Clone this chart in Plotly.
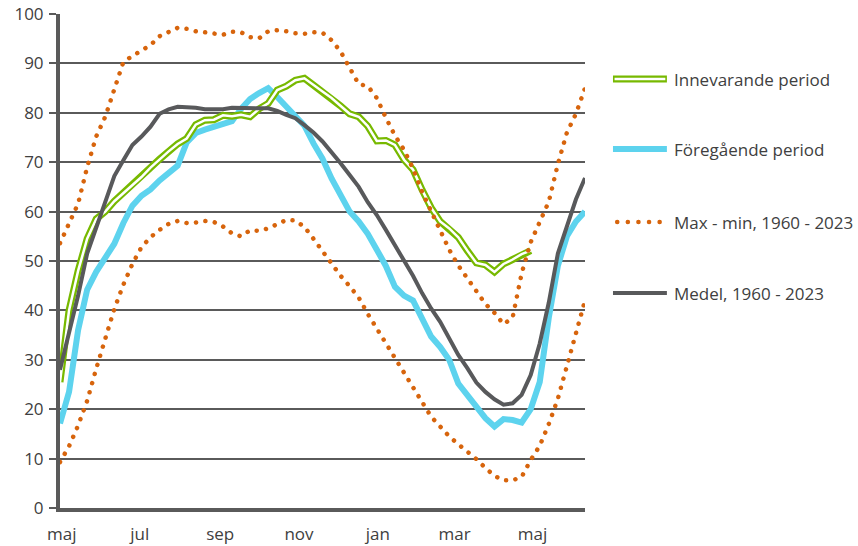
import plotly.graph_objects as go

# Week index from start of May (week 18) through late June the following year
weeks = list(range(59))

month_labels = ["maj", "jul", "sep", "nov", "jan", "mar", "maj"]
month_tick_weeks = [0.2, 8.8, 17.7, 26.4, 35.1, 43.6, 52.2]

y_ticks = [0, 10, 20, 30, 40, 50, 60, 70, 80, 90, 100]

innevarande = [25.5, 40, 48, 54.5, 58.5, 60, 62.1, 63.7, 65.3, 67, 68.9, 70.6, 72.2, 73.7,
               74.8, 77.6, 78.5, 78.6, 79.5, 79.3, 79.6, 79.2, 80.8, 81.9, 84.6, 85.4, 86.6,
               87, 85.6, 84.3, 83, 81.4, 79.8, 79.2, 77.3, 74.3, 74.4, 73.5, 70.5, 68.5, 64.4,
               60.8, 58, 56.6, 54.8, 52.1, 49.6, 49.2, 47.8, 49.4, 50.3, 51.4, 52.1]

foregaende = [17.1, 23.5, 36, 44.2, 47.8, 50.5, 53.5, 57.7, 61.2, 63.2, 64.5, 66.3, 67.8,
              69.3, 74, 75.9, 76.6, 77.1, 77.7, 78.3, 80.8, 82.8, 84, 85, 83.2, 81.3, 79.3,
              77.4, 73.8, 70.7, 66.7, 63.6, 60, 58, 55.5, 52.3, 49, 44.8, 43, 42, 38.3, 34.7,
              32.6, 30, 25.2, 22.9, 20.3, 18.2, 16.5, 18, 17.8, 17.3, 20, 25.5, 38.5, 49, 55,
              58, 60]

max_hist = [53.6, 57.8, 61.6, 69, 75.2, 79.2, 85.1, 90.3, 91.5, 92.5, 93.7, 95.5, 96.3, 97.2,
            97.0, 96.5, 96.3, 96.1, 95.8, 96.4, 96.3, 95.3, 95.1, 96.5, 96.7, 96.5, 96.1, 96,
            96.3, 96.2, 94.7, 92.4, 89, 85.8, 85.4, 83, 79, 75.4, 72.5, 68.7, 64, 60, 56, 52.3,
            49.1, 46.4, 44.1, 41.3, 39.5, 37.2, 38.5, 47.5, 53.8, 57.9, 62, 69.6, 76, 79.8, 85]

min_hist = [9.3, 12.5, 16.7, 21.7, 28.2, 34, 40.3, 45.2, 49.4, 52.8, 54.8, 56.3, 57.5, 58.1,
            57.7, 57.8, 58.1, 57.9, 57, 55.6, 55, 56.2, 56.1, 56.6, 57.4, 58.3, 58.2, 56.9,
            54.5, 51.9, 49.4, 47, 44.9, 42.6, 39.3, 36.3, 33.3, 30.3, 27.4, 24.7, 21.4, 18.5,
            16.5, 14.5, 12.9, 11.4, 9.9, 8.1, 6.5, 5.6, 5.6, 6.3, 9.7, 12.6, 17, 22.1, 28.8,
            35.2, 42]

medel = [28, 35.4, 43, 51.5, 56.7, 61.7, 67.2, 70.4, 73.5, 75.2, 77.2, 79.8, 80.7, 81.2, 81.2,
         81, 80.7, 80.7, 80.7, 81, 80.9, 80.9, 80.9, 80.9, 80.4, 79.6, 78.9, 77.5, 76.0, 74.2,
         72.1, 69.8, 67.4, 65, 61.9, 59.3, 56.3, 53.2, 50.4, 47, 43.5, 40.4, 37.7, 34.3, 31.0,
         28.3, 25.4, 23.5, 22.0, 20.9, 21.2, 22.9, 26.9, 33.3, 41.6, 51.5, 57, 62.5, 66.8]

legend_names = ["Innevarande period", "Föregående period", "Max - min, 1960 - 2023",
                "Medel, 1960 - 2023"]

GREEN = "#77B900"
BLUE = "#5DD3EE"
ORANGE = "#D7640C"
GREY = "#58595B"
TEXT = "#404040"
AXIS = "#5A5A5A"
FONT = "Open Sans"
DOTS = "0.1px,9.4px"

fig = go.Figure()

fig.add_trace(go.Scatter(x=weeks, y=foregaende, mode="lines", name=legend_names[1],
                         line=dict(color=BLUE, width=6), showlegend=False))
fig.add_trace(go.Scatter(x=weeks[:len(innevarande)], y=innevarande, mode="lines",
                         name=legend_names[0], line=dict(color=GREEN, width=7),
                         showlegend=False))
fig.add_trace(go.Scatter(x=weeks[:len(innevarande)], y=innevarande, mode="lines",
                         name=legend_names[0], line=dict(color="white", width=2.5),
                         showlegend=False, hoverinfo="skip"))
fig.add_trace(go.Scatter(x=weeks, y=max_hist, mode="lines", name="Max",
                         line=dict(color=ORANGE, width=4.5, dash=DOTS), showlegend=False))
fig.add_trace(go.Scatter(x=weeks, y=min_hist, mode="lines", name="Min",
                         line=dict(color=ORANGE, width=4.5, dash=DOTS), showlegend=False))
fig.add_trace(go.Scatter(x=weeks, y=medel, mode="lines", name=legend_names[3],
                         line=dict(color=GREY, width=4), showlegend=False))

# Manual legend (paper coordinates)
leg_y = [0.8684, 0.7267, 0.5789, 0.4352]
x0, x1, xt = 1.0533, 1.156, 1.166
fig.add_shape(type="line", xref="paper", yref="paper", x0=x0, x1=x1, y0=leg_y[0], y1=leg_y[0],
              line=dict(color=GREEN, width=7))
fig.add_shape(type="line", xref="paper", yref="paper", x0=x0 + 0.003, x1=x1 - 0.003,
              y0=leg_y[0], y1=leg_y[0], line=dict(color="white", width=2.5))
fig.add_shape(type="line", xref="paper", yref="paper", x0=x0, x1=x1, y0=leg_y[1], y1=leg_y[1],
              line=dict(color=BLUE, width=6))
fig.add_shape(type="line", xref="paper", yref="paper", x0=x0 + 0.008, x1=x1, y0=leg_y[2],
              y1=leg_y[2], line=dict(color=ORANGE, width=4.5, dash="0.1px,10.5px"))
fig.add_shape(type="line", xref="paper", yref="paper", x0=x0, x1=x1, y0=leg_y[3], y1=leg_y[3],
              line=dict(color=GREY, width=4))
for name, yy in zip(legend_names, leg_y):
    fig.add_annotation(xref="paper", yref="paper", x=xt, y=yy, text=name, showarrow=False,
                       xanchor="left", yanchor="middle",
                       font=dict(family=FONT, size=17, color=TEXT))

fig.update_layout(
    width=858, height=546,
    margin=dict(l=60, r=273, t=14, b=38, autoexpand=False),
    paper_bgcolor="white", plot_bgcolor="white",
    showlegend=False,
    font=dict(family=FONT, size=17, color=TEXT),
)
fig.update_xaxes(range=[0, 58], tickmode="array", tickvals=month_tick_weeks,
                 ticktext=month_labels, showgrid=False, zeroline=False, automargin=False,
                 showline=True, linecolor=AXIS, linewidth=4, ticks="",
                 ticklabelstandoff=8, tickfont=dict(family=FONT, size=17, color=TEXT))
fig.update_yaxes(range=[0, 100], tickmode="array", tickvals=y_ticks, showgrid=True,
                 gridcolor=AXIS, gridwidth=2, zeroline=False, showline=True, automargin=False,
                 linecolor=AXIS, linewidth=4, ticks="outside", ticklen=7, tickwidth=2,
                 tickcolor=AXIS, ticklabelstandoff=2,
                 tickfont=dict(family=FONT, size=17, color=TEXT))

# Remove the default page margin and give dotted lines round caps (Excel-style round dots)
post_js = """
document.body.style.margin = '0';
document.querySelectorAll('path').forEach(function (p) {
  if (p.style.strokeDasharray && p.style.strokeDasharray !== 'none') {
    p.style.strokeLinecap = 'round';
  }
});
"""

fig.write_html("out.html", post_script=post_js, config={"displayModeBar": False})
